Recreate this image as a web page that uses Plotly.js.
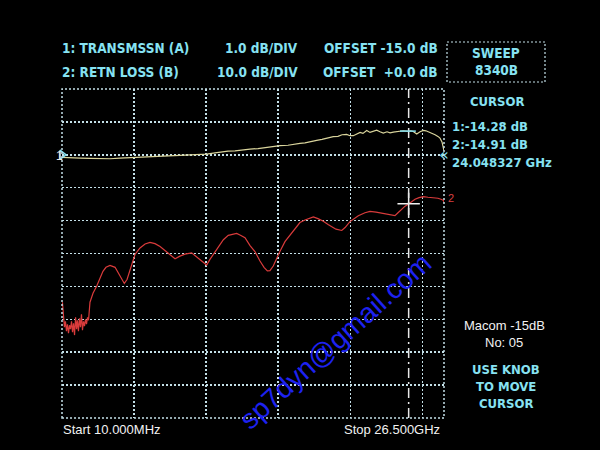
<!DOCTYPE html>
<html>
<head>
<meta charset="utf-8">
<script src="https://cdn.plot.ly/plotly-3.0.1.min.js"></script>
<style>html,body{margin:0;padding:0;background:#000;}#chart{width:600px;height:450px;}</style>
</head>
<body>
<div id="chart"></div>
<script>
// ---- DATA ----
// Trace 1: TRANSMSSN (A), dB, 1.0 dB/div, offset -15 dB
const transFreqGHz = [0.04,0.56,1.26,1.95,2.65,3.34,4.03,4.93,5.77,6.46,7.27,8.19,9.23,10.04,10.62,11.10,11.52,12.01,12.49,13.05,13.60,14.09,14.57,15.13,15.68,16.17,16.51,16.86,17.21,17.67,18.04,18.46,18.82,19.15,19.43,19.75,19.98,20.21,20.47,20.68,20.88,21.14,21.37,21.60,21.83,22.06,22.29,22.55,22.76,22.98,23.24,23.45,23.68,24.02,24.21,24.37,24.61,24.84,25.07,25.25,25.53,25.76,25.88,26.08,26.22,26.36,26.45,26.50];
const transDb = [-15.08,-15.08,-15.10,-15.11,-15.12,-15.12,-15.10,-15.08,-15.07,-15.06,-15.04,-15.02,-15.00,-14.98,-14.94,-14.91,-14.89,-14.88,-14.85,-14.83,-14.81,-14.78,-14.76,-14.72,-14.71,-14.67,-14.65,-14.64,-14.60,-14.56,-14.53,-14.48,-14.45,-14.44,-14.39,-14.38,-14.42,-14.42,-14.36,-14.32,-14.35,-14.26,-14.32,-14.29,-14.25,-14.30,-14.34,-14.30,-14.33,-14.31,-14.29,-14.29,-14.27,-14.29,-14.27,-14.29,-14.37,-14.30,-14.26,-14.27,-14.32,-14.35,-14.39,-14.44,-14.49,-14.61,-14.75,-14.88];

// Trace 2: RETN LOSS (B), dB, 10.0 dB/div, offset 0 dB
const retnFreqGHz = [0.04,0.11,0.18,0.25,0.32,0.39,0.46,0.53,0.60,0.67,0.74,0.81,0.88,0.95,1.02,1.08,1.15,1.22,1.29,1.36,1.43,1.50,1.57,1.64,1.71,1.78,1.85,1.95,2.16,2.42,2.65,2.85,3.06,3.34,3.69,3.91,4.10,4.33,4.52,4.73,5.07,5.42,5.77,6.11,6.46,6.81,7.15,7.50,7.85,8.19,8.54,9.00,9.35,9.65,10.04,10.27,10.50,10.83,11.20,11.54,11.89,12.12,12.35,12.70,13.05,13.39,13.74,14.02,14.25,14.43,14.66,14.85,15.13,15.47,15.82,16.29,16.51,16.86,17.14,17.44,17.76,18.13,18.46,18.71,19.01,19.41,19.64,19.98,20.26,20.56,21.02,21.37,21.79,22.29,22.76,23.10,23.31,23.57,23.80,24.02,24.28,24.49,24.77,25.07,25.39,25.76,26.08,26.29,26.47,26.50];
const retnDb = [-44.8,-49.4,-52.4,-50.6,-53.6,-51.5,-54.2,-51.8,-53.0,-50.6,-53.9,-51.2,-54.8,-49.4,-53.0,-50.3,-53.6,-49.7,-52.4,-48.5,-53.3,-50.6,-52.1,-50.0,-51.5,-49.4,-50.3,-44.8,-42.1,-39.9,-37.3,-35.4,-34.2,-33.6,-34.2,-35.8,-37.6,-39.1,-37.9,-34.8,-30.3,-28.3,-27.1,-26.6,-27.0,-27.9,-29.1,-30.3,-31.6,-30.8,-30.2,-29.8,-31.0,-32.1,-33.5,-31.8,-30.3,-28.2,-25.8,-24.5,-24.0,-23.9,-24.4,-25.2,-27.6,-29.4,-32.3,-34.2,-35.3,-35.2,-33.8,-31.8,-29.3,-26.4,-24.5,-21.8,-20.6,-19.8,-19.4,-18.9,-19.4,-20.2,-21.2,-21.8,-22.6,-23.0,-22.1,-20.3,-19.4,-18.5,-17.6,-17.2,-17.4,-17.9,-18.3,-18.5,-17.6,-16.4,-15.6,-15.0,-14.2,-13.5,-13.0,-12.7,-12.9,-13.0,-13.2,-13.5,-13.9,-14.5];

const cursorFreqGHz = 24.048327;
const cursor1Db = -14.28;
const cursor2Db = -14.91;
const startFreqGHz = 0.010;
const stopFreqGHz = 26.5;

const headerLines = [
  ["1: TRANSMSSN (A)", "1.0 dB/DIV", "OFFSET -15.0 dB"],
  ["2: RETN LOSS (B)", "10.0 dB/DIV", "OFFSET  +0.0 dB"]
];
const sweepLabels = ["SWEEP", "8340B"];
const cursorLabels = ["CURSOR", "1:-14.28 dB", "2:-14.91 dB", "24.048327 GHz"];
const noteLabels = ["Macom -15dB", "No: 05"];
const knobLabels = ["USE KNOB", "TO MOVE", "CURSOR"];
const watermark = "sp7dyn@gmail.com";

// ---- LAYOUT HELPERS (pixel -> paper) ----
const L = 62, R = 444, T = 89, B = 418;
const W = 600, H = 450;
const px = x => (x - L) / (R - L);
const py = y => (B - y) / (B - T);

const CYAN = '#86e2f2';
const GRID = '#c4e0e8';
const hdrFont = {family: '"Liberation Sans Narrow","DejaVu Sans Condensed","Liberation Sans"', size: 13.5, color: CYAN, weight: 'bold'};
const curFont = {family: '"Liberation Sans Narrow","DejaVu Sans Condensed","Liberation Sans"', size: 13, color: CYAN, weight: 'bold'};
const armFont = {family: 'Arial, "Liberation Sans", sans-serif', size: 13, color: '#f2f2f2'};

const ann = [];
function addText(text, x, y, font, xanchor) {
  ann.push({text: text, xref: 'paper', yref: 'paper', x: px(x), y: py(y), xanchor: xanchor || 'left', yanchor: 'middle', showarrow: false, font: font});
}
headerLines.forEach((ln, i) => {
  const y = 48 + i * 24;
  addText(ln[0], 60, y, hdrFont, 'left');
  addText(ln[1], 300, y, hdrFont, 'right');
  addText(ln[2], 440, y, hdrFont, 'right');
});
sweepLabels.forEach((t, i) => addText(t, 496, 53 + i * 17, hdrFont, 'center'));
addText(cursorLabels[0], 497, 101, curFont, 'center');
addText(cursorLabels[1], 450, 127, curFont, 'left');
addText(cursorLabels[2], 450, 144, curFont, 'left');
addText(cursorLabels[3], 450, 162, curFont, 'left');
noteLabels.forEach((t, i) => addText(t, 504, 325 + i * 17, armFont, 'center'));
knobLabels.forEach((t, i) => addText(t, 506, 369 + i * 17, curFont, 'center'));
addText("Start 10.000MHz", 61, 430, armFont, 'left');
addText("Stop 26.500GHz", 442, 430, armFont, 'right');
// reference markers
addText("1", 54, 156, {family: 'Arial', size: 12, color: '#e8e8e8'}, 'left');
addText("«", 437, 154, {family: 'DejaVu Sans', size: 16, color: CYAN}, 'left');
// trace 2 label at end
ann.push({text: '2', xref: 'paper', yref: 'y2', x: px(446), y: retnDb[retnDb.length - 1] + 1.5, xanchor: 'left', yanchor: 'middle', showarrow: false, font: {family: 'Arial', size: 11, color: '#d84040'}});
// watermark
ann.push({text: watermark, xref: 'paper', yref: 'paper', x: px(335), y: py(341), xanchor: 'center', yanchor: 'middle', textangle: -42, showarrow: false, font: {family: 'Arial, "Liberation Sans"', size: 28, color: '#1e22f0'}});

const traces = [
  {x: transFreqGHz, y: transDb, type: 'scatter', mode: 'lines', line: {color: '#d9d49c', width: 1.2}, yaxis: 'y', hoverinfo: 'skip'},
  {x: retnFreqGHz, y: retnDb, type: 'scatter', mode: 'lines', line: {color: '#d93b3b', width: 1.2}, yaxis: 'y2', hoverinfo: 'skip'},
  // cursor cross on trace 2
  {x: [cursorFreqGHz], y: [cursor2Db], type: 'scatter', mode: 'markers', yaxis: 'y2', marker: {symbol: 'cross-thin-open', size: 16, color: '#f0f0f0', line: {color: '#f0f0f0', width: 1.5}}, hoverinfo: 'skip'},
  // cursor triangle at top
  {x: [cursorFreqGHz], y: [-12.86], type: 'scatter', mode: 'markers', yaxis: 'y', cliponaxis: false, marker: {symbol: 'triangle-down-open', size: 9, color: CYAN, line: {color: CYAN, width: 1.5}}, hoverinfo: 'skip'},
  // reference marker on left
  {x: [startFreqGHz], y: [-15], type: 'scatter', mode: 'markers', yaxis: 'y', cliponaxis: false, marker: {symbol: 'triangle-right-open', size: 8, color: CYAN, line: {color: CYAN, width: 1.5}}, hoverinfo: 'skip'}
];

const shapes = [
  // frame
  {type: 'rect', xref: 'paper', yref: 'paper', x0: 0, x1: 1, y0: 0, y1: 1, line: {color: GRID, width: 1.5, dash: '2px,2px'}},
  // sweep box
  {type: 'rect', xref: 'paper', yref: 'paper', x0: px(447), x1: px(545), y0: py(42), y1: py(82), line: {color: GRID, width: 1.2, dash: '2px,2px'}},
  // cursor line
  {type: 'line', xref: 'x', yref: 'paper', x0: cursorFreqGHz, x1: cursorFreqGHz, y0: 0, y1: 1, line: {color: '#e8e8e8', width: 1.5, dash: '10px,4px,2px,4px'}},
  // cursor highlight on trace 1
  {type: 'line', xref: 'x', yref: 'y', x0: cursorFreqGHz - 0.6, x1: cursorFreqGHz + 0.5, y0: cursor1Db, y1: cursor1Db, line: {color: CYAN, width: 1.5}}
];

const layout = {
  width: W, height: H,
  paper_bgcolor: '#000', plot_bgcolor: '#000',
  margin: {l: L, r: W - R, t: T, b: H - B, pad: 0},
  showlegend: false,
  xaxis: {range: [startFreqGHz, stopFreqGHz], tick0: 0, dtick: 5, showticklabels: false, ticks: '', zeroline: false, showline: false, showgrid: true, gridcolor: GRID, gridwidth: 1.5, griddash: '2px,2px'},
  yaxis: {range: [-23, -13], dtick: 1, tick0: -23, showticklabels: false, ticks: '', zeroline: false, showline: false, showgrid: true, gridcolor: GRID, gridwidth: 1.5, griddash: '2px,2px'},
  yaxis2: {range: [-80, 20], overlaying: 'y', showticklabels: false, ticks: '', zeroline: false, showline: false, showgrid: false},
  annotations: ann,
  shapes: shapes
};

Plotly.newPlot('chart', traces, layout, {staticPlot: true, displayModeBar: false});
</script>
</body>
</html>
